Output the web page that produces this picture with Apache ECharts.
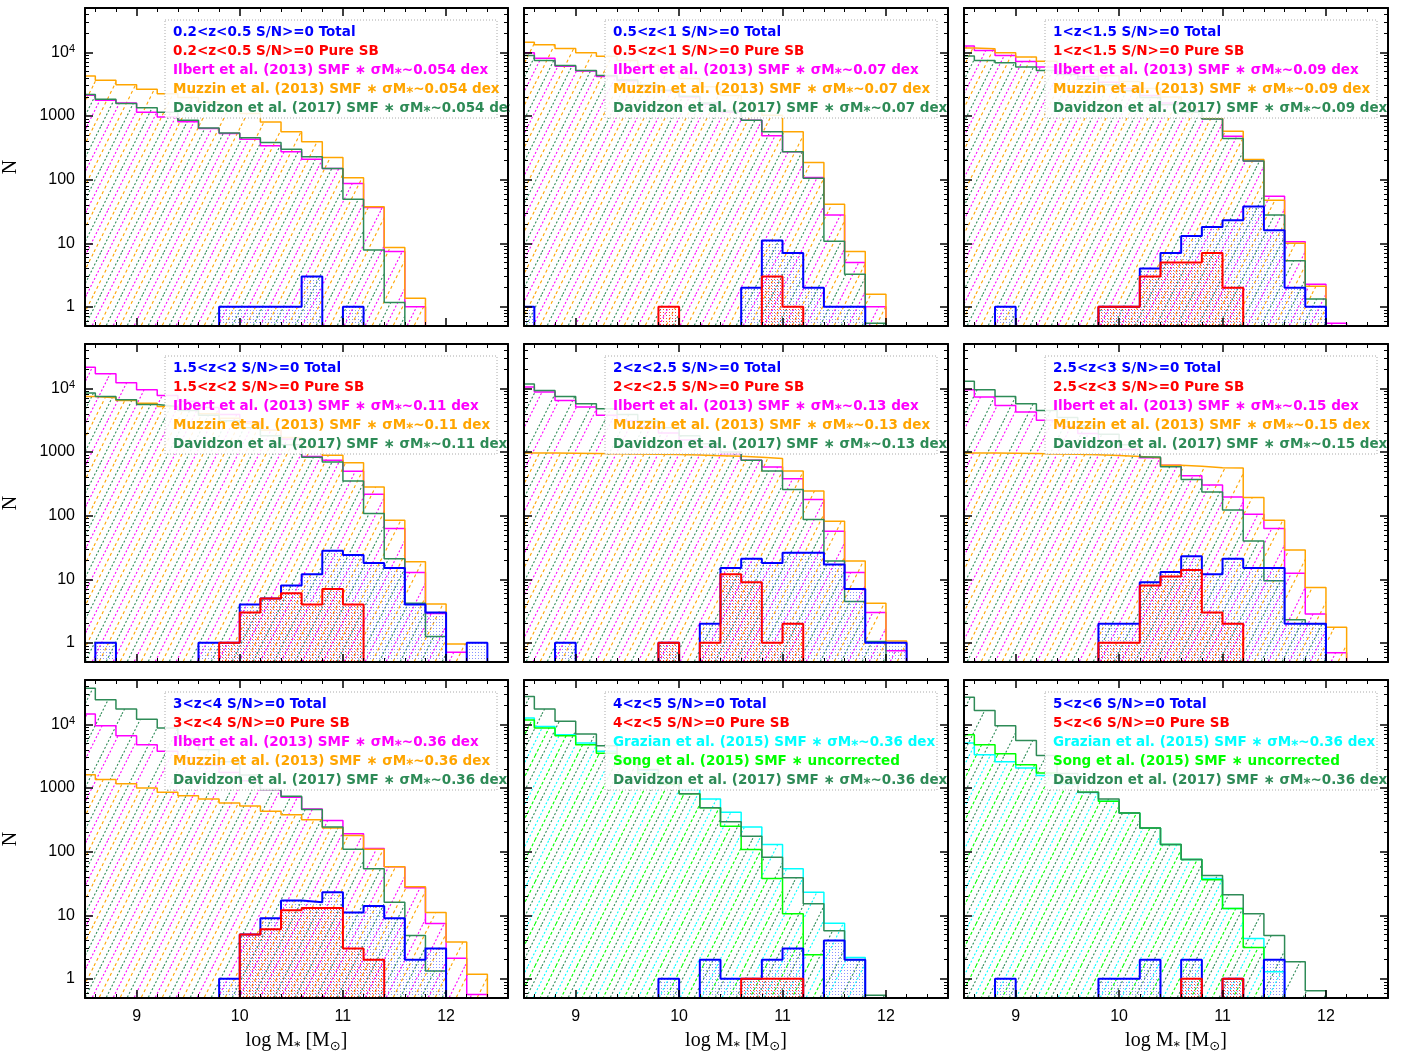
<!DOCTYPE html>
<html><head><meta charset="utf-8">
<script src="https://cdn.jsdelivr.net/npm/echarts@6/dist/echarts.min.js"></script>
<style>html,body{margin:0;padding:0;background:#fff}#c{width:1412px;height:1055px}</style>
</head><body><div id="c"></div>
<script>
// ---------------- DATA ----------------
// histogram bin edges in log M* (bins of 0.2 dex)
const binEdges = [8.4,8.6,8.8,9.0,9.2,9.4,9.6,9.8,10.0,10.2,10.4,10.6,10.8,11.0,11.2,11.4,11.6,11.8,12.0,12.2,12.4,12.6];
const xMajorTicks = [9,10,11,12];
const xMinorTicks = [8.6,8.8,9.2,9.4,9.6,9.8,10.2,10.4,10.6,10.8,11.2,11.4,11.6,11.8,12.2,12.4];
const yMajorTicks = [1,10,100,1000,10000];
const yMinorTicks = [0.6,0.7,0.8,0.9,2,3,4,5,6,7,8,9,20,30,40,50,60,70,80,90,200,300,400,500,600,700,800,900,2000,3000,4000,5000,6000,7000,8000,9000,20000,30000,40000];
const zLabels = ['0.2<z<0.5','0.5<z<1','1<z<1.5','1.5<z<2','2<z<2.5','2.5<z<3','3<z<4','4<z<5','5<z<6'];
const sigmaLabels = ['0.054','0.07','0.09','0.11','0.13','0.15','0.36','0.36','0.36'];

// panel 1: 0.2<z<0.5
const total1 = [0,0,0,0,0,0,0,1,1,1,1,3,0,1,0,0,0,0,0,0,0];
const sb1 = [0,0,0,0,0,0,0,0,0,0,0,0,0,0,0,0,0,0,0,0,0];
const ilbert1 = [2130,1780,1600,1150,970,810,635,530,432,340,275,210,150,87,36.6,7.4,1.0,0,0,0,0];
const muzzin1 = [4260,3640,3100,2640,2250,1950,1650,1380,1100,807,565,393,224,107,37.5,8.6,1.37,0,0,0,0];
const davidzon1 = [2180,1830,1570,1350,1150,860,650,540,455,385,300,230,150,49,7.8,1.17,0,0,0,0,0];
// panel 2: 0.5<z<1
const total2 = [1,0,0,0,0,0,0,0,0,0,0,2,11,7,2,1,1,0,0,0,0];
const sb2 = [0,0,0,0,0,0,0,1,0,0,0,0,3,1,0,0,0,0,0,0,0];
const ilbert2 = [9880,8140,6070,5090,4200,3600,3000,2500,2000,1550,1150,860,490,275,108,27.7,5.0,1.0,0,0,0];
const muzzin2 = [14500,13200,11500,9880,8700,7500,6300,5000,3900,2900,2100,1500,1030,565,186,41,7.4,1.58,0,0,0];
const davidzon2 = [8940,7500,6250,5220,4360,3700,3100,2550,2050,1600,1200,860,565,275,105,10.8,3.25,0.55,0,0,0];
// panel 3: 1<z<1.5
const total3 = [0,0,1,0,0,0,0,1,1,4,7,13,18,23,38,16,2,1,0,0,0];
const sb3 = [0,0,0,0,0,0,0,1,1,3,5,5,7,2,0,0,0,0,0,0,0];
const ilbert3 = [12600,10700,8980,7200,5900,5000,4200,3400,2700,2100,1600,1200,910,480,197,55,10.6,2.27,0.55,0,0];
const muzzin3 = [11700,11400,9880,8500,7300,6200,5200,4300,3500,2700,2000,1400,920,575,207,47.5,10,2.1,0,0,0];
const davidzon3 = [8800,7500,6900,5900,5220,4500,3800,3100,2500,1950,1500,1150,900,443,197,27.7,5.3,1.33,0,0,0];
// panel 4: 1.5<z<2
const total4 = [0,1,0,0,0,0,1,1,4,5,8,12,28,24,18,15,4,3,0,1,0];
const sb4 = [0,0,0,0,0,0,0,1,3,5,6,4,7,4,0,0,0,0,0,0,0];
const ilbert4 = [21600,17000,12300,9540,7770,6300,5000,3900,3000,2200,1600,850,742,499,217,63,12.8,2.9,0.71,0,0];
const muzzin4 = [7500,7120,6440,5870,5220,4600,4000,3400,2800,2200,1700,1200,890,682,283,85,18.9,4.1,0.96,0,0];
const davidzon4 = [8470,7500,6620,5600,5220,4500,3800,3100,2400,1800,1300,830,700,352,108,21,4.2,1.26,0,0,0];
// panel 5: 2<z<2.5
const total5 = [0,0,1,0,0,0,0,1,0,2,15,21,18,26,26,17,7,1,1,0,0];
const sb5 = [0,0,0,0,0,0,0,1,0,1,12,9,1,2,0,0,0,0,0,0,0];
const ilbert5 = [10500,8770,6480,5100,3780,3100,2500,2000,1550,1200,950,740,580,380,180,57,12.8,3.0,0.75,0,0];
const muzzin5 = [968,962,956,950,944,936,926,912,896,878,856,830,790,505,245,82,19.3,4.2,1.07,0,0];
const davidzon5 = [11800,9310,7500,5760,4800,3900,3100,2400,1800,1350,1000,740,505,258,87,19.3,4.45,1.05,0,0,0];
// panel 6: 2.5<z<3
const total6 = [0,0,0,0,0,0,0,2,2,9,13,23,12,21,15,15,2,2,0,0,0];
const sb6 = [0,0,0,0,0,0,0,1,1,8,11,14,3,2,0,0,0,0,0,0,0];
const ilbert6 = [9540,7310,5410,4270,3150,2500,1950,1500,1100,810,620,425,303,196,105,63,12.4,2.85,0.7,0,0];
const muzzin6 = [968,962,954,946,936,922,905,880,850,815,620,598,565,560,193,85,28.8,7.4,1.76,0,0];
const davidzon6 = [13000,9540,7500,5760,4520,3500,2600,1900,1300,835,585,370,236,123,40,9.5,2.3,2.0,0,0,0];
// panel 7: 3<z<4
const total7 = [0,0,0,0,0,0,0,1,5,9,17,16,23,11,14,9,2,3,0,0,0];
const sb7 = [0,0,0,0,0,0,0,0,5,6,12,13,13,3,2,0,0,0,0,0,0];
const ilbert7 = [14600,9540,6620,4800,3790,3000,2300,1750,1300,950,720,468,310,191,112,58,27,7.4,2.1,0.57,0];
const muzzin7 = [1620,1360,1170,1000,860,760,675,583,520,433,380,318,236,180,109,58,28,11,3.8,1.18,0];
const davidzon7 = [37200,24500,17500,12100,8760,6000,4000,2600,1600,950,740,460,245,109,54,16,4.8,1.33,0,0,0];
// panel 8: 4<z<5
const total8 = [0,0,0,0,0,0,0,1,0,2,1,1,2,3,0,4,2,0,0,0,0];
const sb8 = [0,0,0,0,0,0,0,0,0,0,0,1,1,1,0,0,0,0,0,0,0];
const grazian8 = [12600,9310,6900,5100,3780,2700,1900,1350,950,675,417,245,129,54,23,7.5,2.16,0,0,0,0];
const song8 = [11800,8770,6620,4800,3540,2500,1700,1150,810,490,251,108,38,10.6,2.4,0,0,0,0,0,0];
const davidzon8 = [27500,17500,11200,7100,4620,3000,1950,1250,810,490,295,175,82,39,15.2,5.7,2.0,0.55,0,0,0];
// panel 9: 5<z<6
const total9 = [0,0,1,0,0,0,0,1,1,2,0,2,0,1,0,2,0,0,0,0,0];
const sb9 = [0,0,0,0,0,0,0,0,0,0,0,1,0,1,0,0,0,0,0,0,0];
const grazian9 = [5090,3340,2600,2070,1570,1150,850,620,407,236,129,75,38,12.8,4.3,1.29,0,0,0,0,0];
const song9 = [6900,4800,3470,2330,1730,1200,860,620,407,236,129,75,36,12.8,3.1,0,0,0,0,0,0];
const davidzon9 = [26800,16600,9540,5600,3250,1700,860,675,407,236,129,75,42,21,10.6,4.8,1.85,0.65,0,0,0];

// ---------------- STYLE ----------------
const C = {blue:'#0000ff', red:'#ff0000', magenta:'#ff00ff', orange:'#ffa500', dgreen:'#2e8b57', cyan:'#00ffff', lime:'#00ff00'};
const colLeft = [84, 524, 964], rowTop = [8, 344, 680], W = 424, H = 318;
const FLOOR = 0.1;

function hatch(color, phase, dash){
  const w = 21, h = 42;
  const cv = document.createElement('canvas'); cv.width = w; cv.height = h;
  const g = cv.getContext('2d');
  g.strokeStyle = color; g.lineWidth = 1.1; g.setLineDash(dash);
  for (let k = -1; k <= 1; k++) {
    const x0 = phase + k * w;
    g.beginPath(); g.moveTo(x0, h); g.lineTo(x0 + w, 0); g.stroke();
  }
  return {image: cv, repeat: 'repeat'};
}
function dots(color, ox, oy){
  const cv = document.createElement('canvas'); cv.width = 3; cv.height = 3;
  const g = cv.getContext('2d'); g.fillStyle = color; g.fillRect(ox, oy, 1, 1);
  return {image: cv, repeat: 'repeat'};
}
function steps(vals){
  const pts = vals.map((v, i) => [binEdges[i], v > 0 ? v : FLOOR]);
  const last = vals[vals.length - 1];
  pts.push([binEdges[vals.length], last > 0 ? last : FLOOR]);
  return pts;
}

const std = (i) => [
  {name:'Ilbert et al. (2013)', color:C.magenta, data:[ilbert1,ilbert2,ilbert3,ilbert4,ilbert5,ilbert6,ilbert7][i], pat:hatch(C.magenta,3,[2,2])},
  {name:'Muzzin et al. (2013)', color:C.orange, data:[muzzin1,muzzin2,muzzin3,muzzin4,muzzin5,muzzin6,muzzin7][i], pat:hatch(C.orange,10,[3,3])},
  {name:'Davidzon et al. (2017)', color:C.dgreen, data:[davidzon1,davidzon2,davidzon3,davidzon4,davidzon5,davidzon6,davidzon7][i], pat:hatch(C.dgreen,17,[2,2])}
];
const hiz = (j) => [
  {name:'Grazian et al. (2015)', color:C.cyan, data:[grazian8,grazian9][j], pat:hatch(C.cyan,3,[2,2])},
  {name:'Song et al. (2015)', color:C.lime, data:[song8,song9][j], pat:hatch(C.lime,10,[3,2]), uncorr:true},
  {name:'Davidzon et al. (2017)', color:C.dgreen, data:[davidzon8,davidzon9][j], pat:hatch(C.dgreen,17,[2,2])}
];
const totals = [total1,total2,total3,total4,total5,total6,total7,total8,total9];
const sbs = [sb1,sb2,sb3,sb4,sb5,sb6,sb7,sb8,sb9];

const grids = [], xAxes = [], yAxes = [], series = [], graphics = [];
const labFont = 'Liberation Sans';

for (let i = 0; i < 9; i++) {
  const r = Math.floor(i / 3), c = i % 3;
  const left = colLeft[c], top = rowTop[r];
  grids.push({left: left, top: top, width: W, height: H, show: false});
  const xb = {gridIndex: i, type: 'value', min: 8.5, max: 12.6, splitLine: {show: false}, z: 10};
  const frameLine = {show: true, onZero: false, lineStyle: {color: '#000', width: 2}};
  const noLine = {show: false, onZero: false};
  const noLab = {show: false};
  // bottom major
  xAxes.push(Object.assign({}, xb, {position: 'bottom', axisLine: frameLine,
    axisTick: {show: true, inside: true, length: 8, customValues: xMajorTicks, lineStyle: {color: '#000', width: 1.5}},
    axisLabel: {show: r === 2, customValues: xMajorTicks, margin: 11, color: '#000', fontSize: 16, fontFamily: labFont,
      formatter: v => String(Math.round(v))},
    name: r === 2 ? '{a|log M}{s|*}{a| [M}{s|⊙}{a|]}' : '', nameLocation: 'middle', nameGap: 31,
    nameTextStyle: {rich: {a: {fontSize: 20, fontFamily: 'Liberation Serif', color: '#000', lineHeight: 24},
      s: {fontSize: 13, fontFamily: 'DejaVu Sans', color: '#000', verticalAlign: 'bottom', lineHeight: 15}}}
  }));
  xAxes.push(Object.assign({}, xb, {position: 'bottom', axisLine: noLine,
    axisTick: {show: true, inside: true, length: 4, customValues: xMinorTicks, lineStyle: {color: '#000', width: 1}}, axisLabel: noLab}));
  xAxes.push(Object.assign({}, xb, {position: 'top', axisLine: frameLine,
    axisTick: {show: true, inside: true, length: 8, customValues: xMajorTicks, lineStyle: {color: '#000', width: 1.5}}, axisLabel: noLab}));
  xAxes.push(Object.assign({}, xb, {position: 'top', axisLine: noLine,
    axisTick: {show: true, inside: true, length: 4, customValues: xMinorTicks, lineStyle: {color: '#000', width: 1}}, axisLabel: noLab}));

  const yb = {gridIndex: i, type: 'log', logBase: 10, min: 0.5, max: 50000, splitLine: {show: false}, minorTick: {show: false}, z: 10};
  yAxes.push(Object.assign({}, yb, {position: 'left', axisLine: frameLine,
    axisTick: {show: true, inside: true, length: 8, customValues: yMajorTicks, lineStyle: {color: '#000', width: 1.5}},
    axisLabel: {show: c === 0, customValues: yMajorTicks, margin: 10, color: '#000',
      formatter: v => { const n = Math.round(v); return n === 10000 ? '{n|10}{p|4}' : '{n|' + n + '}'; },
      rich: {n: {fontSize: 16, fontFamily: labFont, color: '#000', lineHeight: 18},
             p: {fontSize: 11, fontFamily: labFont, color: '#000', verticalAlign: 'top', lineHeight: 11}}},
    name: c === 0 ? 'N' : '', nameLocation: 'middle', nameGap: 64, nameRotate: 90,
    nameTextStyle: {fontSize: 20, fontFamily: 'Liberation Serif', color: '#000'}
  }));
  yAxes.push(Object.assign({}, yb, {position: 'left', axisLine: noLine,
    axisTick: {show: true, inside: true, length: 4, customValues: yMinorTicks, lineStyle: {color: '#000', width: 1}}, axisLabel: noLab}));
  yAxes.push(Object.assign({}, yb, {position: 'right', axisLine: frameLine,
    axisTick: {show: true, inside: true, length: 8, customValues: yMajorTicks, lineStyle: {color: '#000', width: 1.5}}, axisLabel: noLab}));
  yAxes.push(Object.assign({}, yb, {position: 'right', axisLine: noLine,
    axisTick: {show: true, inside: true, length: 4, customValues: yMinorTicks, lineStyle: {color: '#000', width: 1}}, axisLabel: noLab}));

  const models = i < 7 ? std(i) : hiz(i - 7);
  const base = {type: 'line', xAxisIndex: 4 * i, yAxisIndex: 4 * i, step: 'end', symbol: 'none', silent: true, clip: true};
  models.forEach(m => {
    series.push(Object.assign({}, base, {name: m.name + ' ' + i, data: steps(m.data), z: 2,
      lineStyle: {color: m.color, width: 1.5}, areaStyle: {color: m.pat, opacity: 1, origin: 0.5}}));
  });
  series.push(Object.assign({}, base, {name: 'Total ' + i, data: steps(totals[i]), z: 3,
    lineStyle: {color: C.blue, width: 2}, areaStyle: {color: dots('rgba(40,60,255,0.55)', 1, 1), opacity: 1, origin: 0.5}}));
  series.push(Object.assign({}, base, {name: 'SB ' + i, data: steps(sbs[i]), z: 4,
    lineStyle: {color: C.red, width: 2}, areaStyle: {color: dots('rgba(255,0,0,0.75)', 0, 0), opacity: 1, origin: 0.5}}));

  // legend box
  graphics.push({type: 'rect', z: 20, silent: true, shape: {x: left + 81, y: top + 12, width: 332, height: 98},
    style: {fill: 'rgba(255,255,255,0.88)', stroke: '#aaaaaa', lineWidth: 1, lineDash: [1, 2]}});
  const lines = [
    {t: zLabels[i] + ' S/N>=0 Total', c: C.blue},
    {t: zLabels[i] + ' S/N>=0 Pure SB', c: C.red}
  ].concat(models.map(m => ({t: m.name + ' SMF ∗ ' + (m.uncorr ? 'uncorrected' : 'σM⁎~' + sigmaLabels[i] + ' dex'), c: m.color})));
  lines.forEach((l, k) => {
    graphics.push({type: 'text', z: 21, silent: true, x: left + 89, y: top + 24.5 + 18.9 * k,
      style: {text: l.t, fill: l.c, font: 'bold 13.5px "DejaVu Sans"', textVerticalAlign: 'middle', verticalAlign: 'middle', align: 'left'}});
  });
  // keep legend text inside the panel frame (gap between panels stays blank)
  if (c < 2) {
    graphics.push({type: 'rect', z: 22, silent: true, shape: {x: left + W + 1.5, y: top + 14, width: 13, height: 100},
      style: {fill: '#ffffff'}});
  }
}

const chart = echarts.init(document.getElementById('c'), null, {renderer: 'canvas', width: 1412, height: 1055});
chart.setOption({
  animation: false,
  backgroundColor: '#ffffff',
  grid: grids, xAxis: xAxes, yAxis: yAxes, series: series, graphic: graphics
});
</script>
</body></html>
